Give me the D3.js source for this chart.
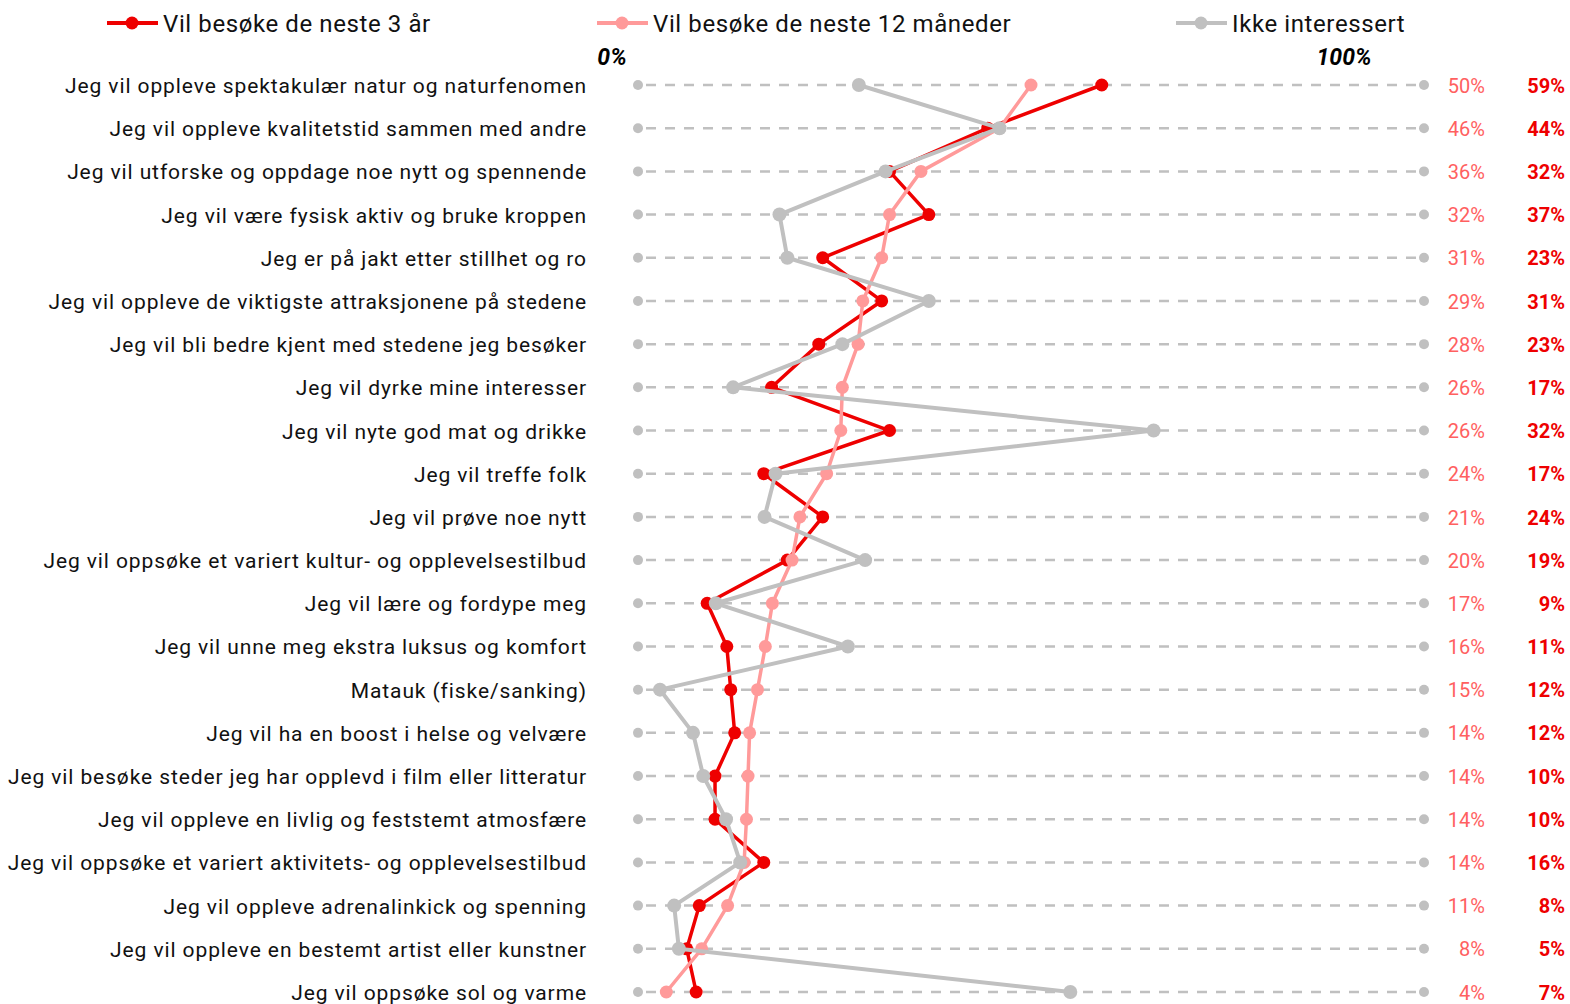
<!DOCTYPE html>
<html lang="no">
<head>
    <meta charset="UTF-8">
    <title>Reisemotiver</title>
    <script src="https://d3js.org/d3.v7.min.js"></script>
    <style>
        body { margin: 0; background: #fff; }
        text { font-family: Roboto, "Noto Sans", sans-serif; }
    </style>
</head>
<body>
    <script>
        const categories = [
            "Jeg vil oppleve spektakulær natur og naturfenomen",
            "Jeg vil oppleve kvalitetstid sammen med andre",
            "Jeg vil utforske og oppdage noe nytt og spennende",
            "Jeg vil være fysisk aktiv og bruke kroppen",
            "Jeg er på jakt etter stillhet og ro",
            "Jeg vil oppleve de viktigste attraksjonene på stedene",
            "Jeg vil bli bedre kjent med stedene jeg besøker",
            "Jeg vil dyrke mine interesser",
            "Jeg vil nyte god mat og drikke",
            "Jeg vil treffe folk",
            "Jeg vil prøve noe nytt",
            "Jeg vil oppsøke et variert kultur- og opplevelsestilbud",
            "Jeg vil lære og fordype meg",
            "Jeg vil unne meg ekstra luksus og komfort",
            "Matauk (fiske/sanking)",
            "Jeg vil ha en boost i helse og velvære",
            "Jeg vil besøke steder jeg har opplevd i film eller litteratur",
            "Jeg vil oppleve en livlig og feststemt atmosfære",
            "Jeg vil oppsøke et variert aktivitets- og opplevelsestilbud",
            "Jeg vil oppleve adrenalinkick og spenning",
            "Jeg vil oppleve en bestemt artist eller kunstner",
            "Jeg vil oppsøke sol og varme"
        ];

        // values in %
        const treAar = [59, 44.5, 32, 37, 23.5, 31, 23, 17, 32, 16, 23.5, 19, 8.8, 11.3, 11.8, 12.3, 9.8, 9.8, 16, 7.8, 6.2, 7.4];
        const tolvMnd = [50, 46, 36, 32, 31, 28.6, 28, 26, 25.8, 24, 20.6, 19.6, 17.1, 16.2, 15.2, 14.2, 14, 13.8, 13.5, 11.4, 8.1, 3.6];
        const ikkeInteressert = [28.1, 46, 31.5, 18, 19, 37, 26, 12.1, 65.6, 17.5, 16.1, 28.9, 9.9, 26.7, 2.8, 7, 8.3, 11.2, 13, 4.6, 5.2, 55];

        const labels3 = ["59%", "44%", "32%", "37%", "23%", "31%", "23%", "17%", "32%", "17%", "24%", "19%", "9%", "11%", "12%", "12%", "10%", "10%", "16%", "8%", "5%", "7%"];
        const labels12 = ["50%", "46%", "36%", "32%", "31%", "29%", "28%", "26%", "26%", "24%", "21%", "20%", "17%", "16%", "15%", "14%", "14%", "14%", "14%", "11%", "8%", "4%"];

        const seriesNames = ["Vil besøke de neste 3 år", "Vil besøke de neste 12 måneder", "Ikke interessert"];

        const width = 1570;
        const height = 1004;
        const red = "#ee0000", pink = "#ff9a9a", grey = "#c0c0c0";

        const svg = d3.select("body").append("svg")
            .attr("width", width)
            .attr("height", height);

        const x = d3.scaleLinear().domain([0, 100]).range([638, 1424]);
        const y = d3.scalePoint().domain(categories).range([85, 992]);

        // dashed guides
        const rows = svg.append("g")
            .selectAll("g")
            .data(categories)
            .join("g")
            .attr("transform", d => `translate(0,${y(d)})`);

        rows.append("line")
            .attr("x1", x(0)).attr("x2", x(100))
            .attr("stroke", grey)
            .attr("stroke-width", 2.5)
            .attr("stroke-dasharray", "10,9")
            .attr("stroke-dashoffset", -8);

        rows.selectAll("circle.end")
            .data([0, 100])
            .join("circle")
            .attr("class", "end")
            .attr("cx", d => x(d))
            .attr("r", 5)
            .attr("fill", grey);

        rows.append("text")
            .attr("x", 587)
            .attr("dy", "0.38em")
            .attr("text-anchor", "end")
            .attr("font-size", 21)
            .attr("letter-spacing", "0.9px")
            .attr("fill", "#111")
            .text(d => d);

        rows.append("text")
            .attr("x", 1485)
            .attr("dy", "0.38em")
            .attr("text-anchor", "end")
            .attr("font-size", 20)
            .attr("fill", "#ff6060")
            .text((d, i) => labels12[i]);

        rows.append("text")
            .attr("x", 1565)
            .attr("dy", "0.38em")
            .attr("text-anchor", "end")
            .attr("font-size", 20)
            .attr("font-weight", "bold")
            .attr("fill", red)
            .text((d, i) => labels3[i]);

        // axis end labels
        svg.append("text")
            .attr("x", 612).attr("y", 57).attr("dy", "0.35em")
            .attr("text-anchor", "middle")
            .attr("font-size", 23).attr("font-weight", "bold").attr("font-style", "italic")
            .text("0%");
        svg.append("text")
            .attr("x", 1344).attr("y", 57).attr("dy", "0.35em")
            .attr("text-anchor", "middle")
            .attr("font-size", 23).attr("font-weight", "bold").attr("font-style", "italic")
            .text("100%");

        const series = [
            { name: seriesNames[0], values: treAar, color: red, w: 3.5, r: 6.5 },
            { name: seriesNames[1], values: tolvMnd, color: pink, w: 3.5, r: 6.5 },
            { name: seriesNames[2], values: ikkeInteressert, color: grey, w: 4, r: 7 }
        ];

        const line = d3.line()
            .x(d => x(d.v))
            .y(d => y(d.c));

        series.forEach(s => {
            const pts = categories.map((c, i) => ({ c: c, v: s.values[i] }));
            const g = svg.append("g");
            g.append("path")
                .datum(pts)
                .attr("d", line)
                .attr("fill", "none")
                .attr("stroke", s.color)
                .attr("stroke-width", s.w)
                .attr("stroke-linejoin", "round");
            g.selectAll("circle")
                .data(pts)
                .join("circle")
                .attr("cx", d => x(d.v))
                .attr("cy", d => y(d.c))
                .attr("r", s.r)
                .attr("fill", s.color);
        });

        // legend
        const legendX = [107, 597, 1176];
        const legend = svg.append("g")
            .selectAll("g")
            .data(series)
            .join("g")
            .attr("transform", (d, i) => `translate(${legendX[i]},23)`);
        legend.append("line")
            .attr("x1", 0).attr("x2", 51)
            .attr("stroke", d => d.color)
            .attr("stroke-width", 4);
        legend.append("circle")
            .attr("cx", 25).attr("r", 6.5)
            .attr("fill", d => d.color);
        legend.append("text")
            .attr("x", 56)
            .attr("dy", "0.36em")
            .attr("font-size", 24)
            .attr("letter-spacing", "0.6px")
            .attr("fill", "#111")
            .text(d => d.name);
    </script>
</body>
</html>
